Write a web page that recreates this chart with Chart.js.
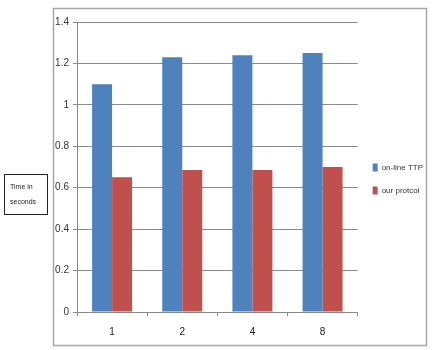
<!DOCTYPE html>
<html>
<head>
<meta charset="utf-8">
<script src="https://cdn.jsdelivr.net/npm/chart.js@4/dist/chart.umd.min.js"></script>
<style>
  html, body { margin: 0; padding: 0; background: #fff; }
  #wrap { position: relative; width: 443px; height: 350px; }
  #ylabel {
    position: absolute; left: 4px; top: 174px; width: 44px; height: 41px;
    border: 1px solid #222; box-sizing: border-box;
    font: 7px "Liberation Sans", Arial, sans-serif; color: #222;
    padding: 4px 0 0 5px; line-height: 15px;
  }
</style>
</head>
<body>
<div id="wrap">
  <canvas id="chart" width="443" height="350"></canvas>
  <div id="ylabel">Time in<br>seconds</div>
</div>
<script>
document.addEventListener("DOMContentLoaded", () => {
    // Valori
    const categories = ["1", "2", "4", "8"];
    const onlineTTP = [1.1, 1.23, 1.24, 1.25];
    const ourProtocol = [0.65, 0.685, 0.685, 0.70];
    const yTicks = [0, 0.2, 0.4, 0.6, 0.8, 1, 1.2, 1.4];

    // Bordo esterno del grafico
    const frame = {
        id: "frame",
        beforeDraw(chart) {
            const ctx = chart.ctx;
            ctx.save();
            ctx.strokeStyle = "#a6a6a6";
            ctx.lineWidth = 1.5;
            ctx.strokeRect(53.5, 8.5, 373, 337);
            ctx.restore();
        }
    };

    new Chart(document.getElementById("chart").getContext("2d"), {
        type: "bar",
        data: {
            labels: categories,
            datasets: [{
                label: "on-line TTP",
                data: onlineTTP,
                backgroundColor: "#4F81BD",
                barPercentage: 1,
                categoryPercentage: 0.57
            }, {
                label: "our protcol",
                data: ourProtocol,
                backgroundColor: "#C0504D",
                barPercentage: 1,
                categoryPercentage: 0.57
            }]
        },
        options: {
            responsive: false,
            animation: false,
            layout: { padding: { top: 22, bottom: 14, left: 0, right: 10 } },
            plugins: {
                tooltip: { enabled: false },
                legend: {
                    position: "right",
                    labels: {
                        boxWidth: 5,
                        boxHeight: 8,
                        padding: 15,
                        color: "#333",
                        font: { family: "Liberation Sans", size: 8 }
                    }
                }
            },
            scales: {
                x: {
                    grid: { display: true, drawOnChartArea: false, tickLength: 4, color: "#888", offset: true },
                    border: { color: "#888" },
                    ticks: { color: "#222", padding: 10, font: { family: "Liberation Sans", size: 10 } },
                    afterFit: (axis) => { axis.height = 24; }
                },
                y: {
                    min: 0,
                    max: 1.4,
                    afterBuildTicks: (axis) => { axis.ticks = yTicks.map(v => ({ value: v })); },
                    grid: { color: "#8a8a8a", tickLength: 4 },
                    border: { color: "#888" },
                    ticks: {
                        color: "#333",
                        padding: 4,
                        font: { family: "Liberation Sans", size: 10 },
                        callback: (v) => String(+v.toFixed(1))
                    },
                    afterFit: (axis) => { axis.width = 77; }
                }
            }
        },
        plugins: [frame]
    });
});
</script>
</body>
</html>
